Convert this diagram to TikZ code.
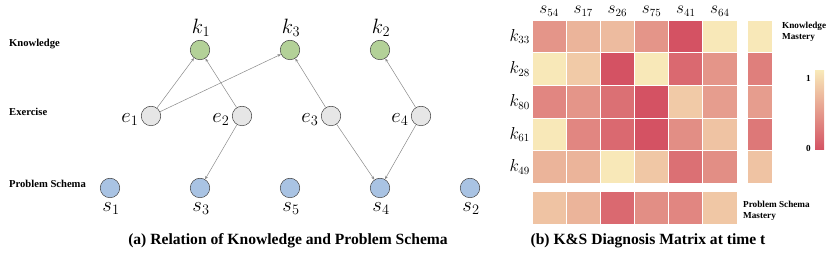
\documentclass[tikz,border=0pt]{standalone}
\usepackage{fontspec}
\setmainfont{Liberation Serif}
\usetikzlibrary{arrows.meta}
\definecolor{lo}{HTML}{D45263}
\definecolor{hi}{HTML}{F8E8B8}
\definecolor{kfill}{HTML}{B3D198}
\definecolor{efill}{HTML}{E6E6E6}
\definecolor{sfill}{HTML}{A9C3E3}
\definecolor{edgec}{HTML}{8A8A8A}
\tikzset{
  vtx/.style={circle,draw=black!75,line width=0.5pt,minimum size=19.5pt,inner sep=0pt},
  knode/.style={vtx,fill=kfill},
  enode/.style={vtx,fill=efill},
  snode/.style={vtx,fill=sfill},
  mlab/.style={font=\fontsize{21}{22}\selectfont,inner sep=0pt},
  rowlab/.style={font=\bfseries\fontsize{10.6}{12}\selectfont,anchor=west,inner sep=0pt},
  caplab/.style={font=\bfseries\fontsize{15.6}{17}\selectfont,inner sep=0pt},
  smalllab/.style={font=\bfseries\fontsize{9.2}{10.5}\selectfont,align=left,anchor=west,inner sep=0pt},
  hlab/.style={font=\fontsize{16}{18}\selectfont,inner sep=0pt},
  rel/.style={draw=edgec,line width=0.5pt,-{Stealth[length=3.5pt,width=2.8pt]}},
  cell/.style={draw=white,line width=0.8pt}
}
\begin{document}
\begin{tikzpicture}[x=1pt,y=-1pt]
\useasboundingbox (0,0) rectangle (831,253);
% ---------- left panel ----------
\node[rowlab] (lk) at (9,44) {Knowledge};
\node[rowlab] (le) at (9,112) {Exercise};
\node[rowlab] (ls) at (9,184) {Problem Schema};

\node[knode] (k1) at (200,50) {};
\node[knode] (k3) at (290,50) {};
\node[knode] (k2) at (380,50) {};
\node[mlab,anchor=base] (tk1) at (201,33.5) {$k_1$};
\node[mlab,anchor=base] (tk3) at (291,33.5) {$k_3$};
\node[mlab,anchor=base] (tk2) at (381,33.5) {$k_2$};

\node[enode] (e1) at (151,116) {};
\node[enode] (e2) at (242,116) {};
\node[enode] (e3) at (331,116) {};
\node[enode] (e4) at (421,116) {};
\node[mlab,anchor=base east] (te1) at (138.5,122.7) {$e_1$};
\node[mlab,anchor=base east] (te2) at (229.5,122.7) {$e_2$};
\node[mlab,anchor=base east] (te3) at (318.5,122.7) {$e_3$};
\node[mlab,anchor=base east] (te4) at (408.5,122.7) {$e_4$};

\node[snode] (s1) at (110,188) {};
\node[snode] (s3) at (200,188) {};
\node[snode] (s5) at (290,188) {};
\node[snode] (s4) at (380,188) {};
\node[snode] (s2) at (470,188) {};
\node[mlab,anchor=base] (ts1) at (111,211.7) {$s_1$};
\node[mlab,anchor=base] (ts3) at (201,211.7) {$s_3$};
\node[mlab,anchor=base] (ts5) at (291,211.7) {$s_5$};
\node[mlab,anchor=base] (ts4) at (381,211.7) {$s_4$};
\node[mlab,anchor=base] (ts2) at (471,211.7) {$s_2$};

\draw[rel] (e1) -- (k1);
\draw[rel] (e1) -- (k3);
\draw[rel] (e2) -- (k1);
\draw[rel] (e2) -- (s3);
\draw[rel] (e3) -- (k3);
\draw[rel] (e3) -- (s4);
\draw[rel] (e4) -- (k2);
\draw[rel] (e4) -- (s4);

\node[caplab] (capa) at (288,241) {(a) Relation of Knowledge and Problem Schema};

% ---------- right panel ----------
\def\cw{34.17}
\def\ch{32.7}
\foreach \row [count=\r from 0] in {{45,65,70,45,0,100},{100,80,0,100,15,45},{35,45,20,0,80,50},{100,35,15,0,40,75},{65,65,100,78,20,40}}{
  \foreach \v [count=\c from 0] in \row {
    \fill[hi!\v!lo,cell] ({532+\c*\cw},{20+\r*\ch}) rectangle ++(\cw,\ch);
  }
}
\foreach \v [count=\r from 0] in {100,30,50,25,75}{
  \fill[hi!\v!lo,cell] (747,{20+\r*\ch}) rectangle ++(25,\ch);
}
\foreach \v [count=\c from 0] in {75,65,15,40,35,78}{
  \fill[hi!\v!lo,cell] ({532+\c*\cw},191.7) rectangle ++(\cw,32.6);
}
\foreach \t [count=\c from 0] in {54,17,26,75,41,64}{
  \node[hlab] (col\t) at ({532+\cw/2+\c*\cw},11) {$s_{\t}$};
}
\foreach \t [count=\r from 0] in {33,28,80,61,49}{
  \node[hlab,anchor=east] (row\t) at (530,{20+\ch/2+\r*\ch}) {$k_{\t}$};
}
\shade[bottom color=lo,top color=hi] (815,71) rectangle (824,150);
\node[smalllab,anchor=east] (one) at (811,78) {1};
\node[smalllab,anchor=east] (zero) at (811,148) {0};
\node[smalllab,anchor=north west] (km) at (782,22) {Knowledge\\Mastery};
\node[smalllab,anchor=north west] (pm) at (743,201) {Problem Schema\\Mastery};

\node[caplab] (capb) at (648,241) {(b) K\&S Diagnosis Matrix at time t};
\end{tikzpicture}
\end{document}
